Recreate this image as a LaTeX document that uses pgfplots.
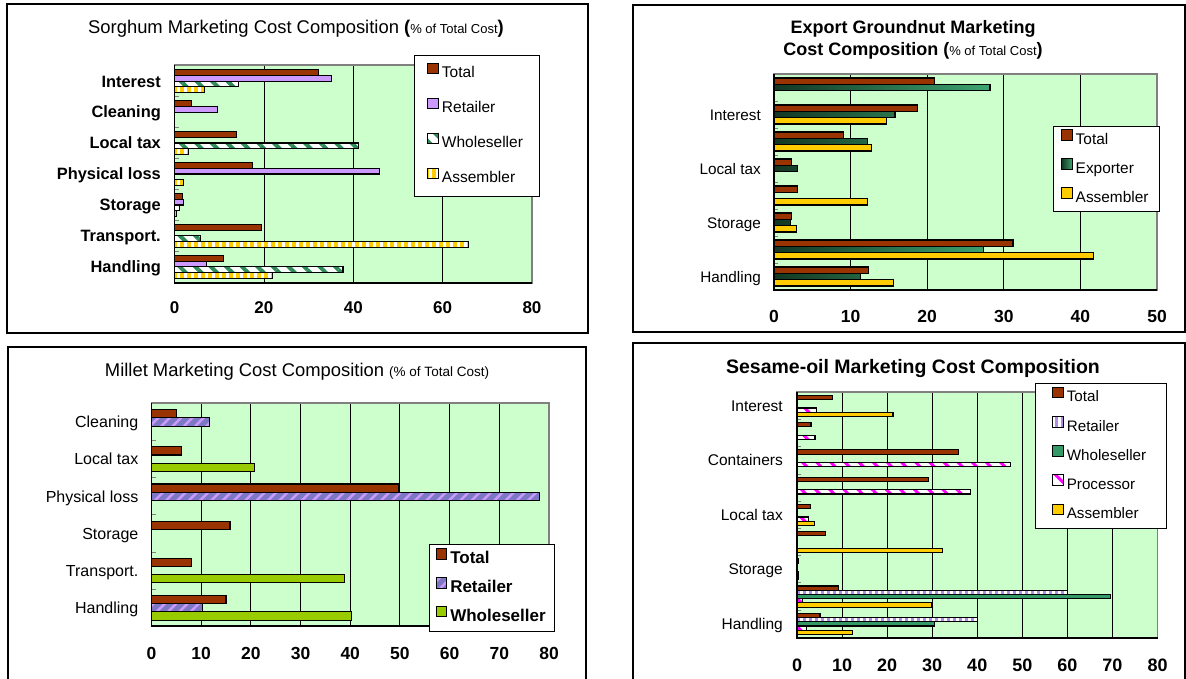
\documentclass[border=0pt]{standalone}
\usepackage{pgfplots}
\pgfplotsset{compat=1.18}
\usepackage{fontspec}
\setmainfont{Liberation Sans}
\usetikzlibrary{patterns.meta}

\definecolor{ctotal}{RGB}{153,51,0}
\definecolor{cretail}{RGB}{204,153,255}
\definecolor{cwhole}{RGB}{46,139,87}
\definecolor{cwhole2}{RGB}{51,153,102}
\definecolor{cyel}{RGB}{255,204,0}
\definecolor{bggreen}{RGB}{204,255,204}
\definecolor{clime}{RGB}{153,204,0}
\definecolor{cmil}{RGB}{125,120,195}
\definecolor{cmag}{RGB}{255,0,255}
\definecolor{clav}{RGB}{175,140,230}
\definecolor{cexpd}{RGB}{18,55,35}
\definecolor{cexpl}{RGB}{62,165,112}
\definecolor{framegray}{RGB}{128,128,128}

\newcommand{\fs}[1]{\fontsize{#1}{#1}\selectfont}

\pgfplotsset{
  panel/.style={
    scale only axis, xbar, y dir=reverse, xmin=0,
    /pgf/number format/assume math mode=true,
    axis background/.style={fill=bggreen},
    axis line style={draw=framegray, line width=1.5pt},
    xmajorgrids, major grid style={black, line width=0.9pt},
    tick align=inside, tick pos=left,
    major tick length=0pt, minor tick length=4pt,
    minor tick style={framegray, line width=1pt},
    legend cell align=left,
    legend image code/.code={\draw[##1,/tikz/.cd,line width=1pt] (0pt,0pt) rectangle (10.5pt,10.5pt);},
    after end axis/.code={\draw[black, line width=1.5pt] (axis description cs:0,1) -- (axis description cs:0,0) -- (axis description cs:1,0);},
  },
  bb/.style={draw=black, line width=1.1pt},
}

\begin{document}
\begin{tikzpicture}
\useasboundingbox (0pt,0pt) rectangle (1186pt,-678pt);
\fill[white] (0pt,0pt) rectangle (1186pt,-678pt);
% panel frames
\draw[black, line width=2pt] (7pt,-4pt) rectangle (588pt,-333pt);
\draw[black, line width=2pt] (633pt,-5pt) rectangle (1185pt,-332pt);
\draw[black, line width=2pt] (8pt,-347pt) rectangle (586pt,-700pt);
\draw[black, line width=2pt] (633pt,-343pt) rectangle (1185pt,-700pt);

% titles
\node[anchor=base, font=\fs{18.4}, inner sep=0pt] at (296pt,-33.6pt) {Sorghum Marketing Cost Composition {\bfseries(}{\fs{13}\% of Total Cost}{\bfseries)}};
\node[anchor=base, font=\fs{18}\bfseries, inner sep=0pt] at (913pt,-33.4pt) {Export Groundnut Marketing};
\node[anchor=base, font=\fs{18}\bfseries, inner sep=0pt] at (913pt,-55.7pt) {Cost Composition ({\mdseries\fs{13}\% of Total Cost})};
\node[anchor=base, font=\fs{18.4}, inner sep=0pt] at (297pt,-376.6pt) {Millet Marketing Cost Composition {\fs{13.5}(\% of Total Cost)}};
\node[anchor=base, font=\fs{19.5}\bfseries, inner sep=0pt] at (913pt,-373.3pt) {Sesame-oil Marketing Cost Composition};

% ---------------- Sorghum ----------------
\begin{axis}[panel,
  at={(174.6pt,-283pt)}, anchor=south west,
  width=357.4pt, height=218pt,
  xmax=80, xtick={0,20,...,80},
  ymin=-0.52, ymax=6.52,
  ytick={0,...,6},
  yticklabels={Interest,Cleaning,Local tax,Physical loss,Storage,Transport.,Handling},
  minor ytick={0.5,1.5,...,5.5},
  bar width=0.183,
  xticklabel style={font=\fs{17}\bfseries, anchor=base, inner sep=0pt, yshift=-30pt},
  yticklabel style={font=\fs{16.4}\bfseries, anchor=base east, inner sep=0pt, xshift=-13.6pt, yshift=-5.9pt},
  legend style={at={(0.670,1.046)}, anchor=north west, draw=black, line width=0.8pt, fill=white,
    font=\fs{15.5}, row sep=14pt, inner xsep=13pt, inner ysep=7.5pt,
    nodes={text height=11pt, text depth=3pt, inner sep=3pt}},
]
\addplot[bb, fill=ctotal, bar shift=-0.2745] coordinates {(32.3,0) (3.8,1) (13.9,2) (17.4,3) (1.8,4) (19.4,5) (11.0,6)};
\addplot[bb, fill=cretail, bar shift=-0.0915] coordinates {(35.2,0) (9.6,1) (45.9,3) (1.9,4) (7.1,6)};
\addplot[bb, fill=white, postaction={pattern={Lines[angle=-45,distance=11pt,line width=4pt]}, pattern color=cwhole}, bar shift=0.0915] coordinates {(14.4,0) (41.1,2) (1.0,4) (5.7,5) (37.7,6)};
\addplot[bb, fill=white, postaction={pattern={Lines[angle=90,distance=7pt,line width=3.5pt]}, pattern color=cyel}, bar shift=0.2745] coordinates {(6.6,0) (3.2,2) (1.9,3) (0.4,4) (65.8,5) (21.9,6)};
\legend{Total,Retailer,Wholeseller,Assembler}
\end{axis}

% ---------------- Groundnut ----------------
\begin{axis}[panel,
  at={(774pt,-290pt)}, anchor=south west,
  width=383pt, height=216pt,
  xmax=50, xtick={0,10,...,50},
  ymin=-0.5, ymax=7.5,
  ytick={1,3,5,7},
  yticklabels={Interest,Local tax,Storage,Handling},
  minor ytick={0.5,1.5,...,6.5},
  bar width=0.234,
  xticklabel style={font=\fs{17.5}\bfseries, anchor=base, inner sep=0pt, yshift=-32pt},
  yticklabel style={font=\fs{15.3}, anchor=base east, inner sep=0pt, xshift=-13pt, yshift=-5.5pt},
  legend style={at={(0.728,0.759)}, anchor=north west, draw=black, line width=0.8pt, fill=white,
    font=\fs{15.4}, row sep=8pt, inner xsep=8pt, inner ysep=3pt,
    nodes={text height=11pt, text depth=3pt, inner sep=3pt}},
]
\addplot[bb, fill=ctotal, bar shift=-0.234] coordinates {(21.0,0) (18.7,1) (9.1,2) (2.3,3) (3.1,4) (2.3,5) (31.2,6) (12.3,7)};
\addplot[bb, left color=cexpd, right color=cexpl, bar shift=0] coordinates {(28.2,0) (15.8,1) (12.2,2) (3.1,3) (2.1,5) (27.3,6) (11.3,7)};
\addplot[bb, fill=cyel, bar shift=0.234] coordinates {(14.7,1) (12.7,2) (12.2,4) (2.9,5) (41.7,6) (15.6,7)};
\legend{Total,Exporter,Assembler}
\end{axis}

% ---------------- Millet ----------------
\begin{axis}[panel,
  at={(151.5pt,-626pt)}, anchor=south west,
  width=397.5pt, height=223pt,
  xmax=80, xtick={0,10,...,80},
  ymin=-0.51, ymax=5.49,
  ytick={0,...,5},
  yticklabels={Cleaning,Local tax,Physical loss,Storage,Transport.,Handling},
  minor ytick={0.5,1.5,...,4.5},
  bar width=0.22,
  xticklabel style={font=\fs{17.5}\bfseries, anchor=base, inner sep=0pt, yshift=-33pt},
  yticklabel style={font=\fs{16}, anchor=base east, inner sep=0pt, xshift=-13pt, yshift=-5.7pt},
  legend style={at={(0.699,0.368)}, anchor=north west, draw=black, line width=0.8pt, fill=white,
    font=\fs{17}\bfseries, row sep=7pt, inner xsep=6pt, inner ysep=4pt,
    nodes={text height=12pt, text depth=3.5pt, inner sep=3pt}},
]
\addplot[bb, fill=ctotal, bar shift=-0.22] coordinates {(5.1,0) (6.0,1) (49.7,2) (15.8,3) (8.0,4) (15.0,5)};
\addplot[bb, fill=cmil, postaction={pattern={Lines[angle=45,distance=8pt,line width=2.5pt]}, pattern color=cretail}, bar shift=0] coordinates {(11.7,0) (78.0,2) (10.3,5)};
\addplot[bb, fill=clime, bar shift=0.22] coordinates {(20.8,1) (38.9,4) (40.2,5)};
\legend{Total,Retailer,Wholeseller}
\end{axis}

% ---------------- Sesame ----------------
\begin{axis}[panel,
  at={(797pt,-638pt)}, anchor=south west,
  width=360.5pt, height=246pt,
  xmax=80, xtick={0,10,...,80},
  ymin=-0.51, ymax=8.52,
  ytick={0,2,...,8},
  yticklabels={Interest,Containers,Local tax,Storage,Handling},
  minor ytick={0.5,1.5,...,7.5},
  bar width=0.155,
  xticklabel style={font=\fs{18}\bfseries, anchor=base, inner sep=0pt, yshift=-33.4pt},
  yticklabel style={font=\fs{15.5}, anchor=base east, inner sep=0pt, xshift=-14pt, yshift=-5.5pt},
  legend style={at={(0.660,1.037)}, anchor=north west, draw=black, line width=0.8pt, fill=white,
    font=\fs{15.2}, row sep=8.2pt, inner xsep=17pt, inner ysep=3.5pt,
    nodes={text height=11pt, text depth=3pt, inner sep=3pt}},
]
\addplot[bb, fill=ctotal, bar shift=-0.31] coordinates {(7.9,0) (3.1,1) (35.9,2) (29.2,3) (3.0,4) (6.4,5) (0.3,6) (9.3,7) (5.1,8)};
\addplot[bb, fill=white, postaction={pattern={Lines[angle=90,distance=6pt,line width=3pt]}, pattern color=clav}, bar shift=-0.155] coordinates {(60.0,7) (40.0,8)};
\addplot[bb, fill=cwhole2, bar shift=0] coordinates {(69.5,7) (30.6,8)};
\addplot[bb, fill=white, postaction={pattern={Lines[angle=-45,distance=10pt,line width=3pt]}, pattern color=cmag}, bar shift=0.155] coordinates {(4.3,0) (4.0,1) (47.4,2) (38.5,3) (2.5,4) (0.4,6) (1.2,7) (2.2,8)};
\addplot[bb, fill=cyel, bar shift=0.31] coordinates {(21.3,0) (3.8,4) (32.3,5) (0.4,6) (29.9,7) (12.4,8)};
\legend{Total,Retailer,Wholeseller,Processor,Assembler}
\end{axis}
\end{tikzpicture}
\end{document}
